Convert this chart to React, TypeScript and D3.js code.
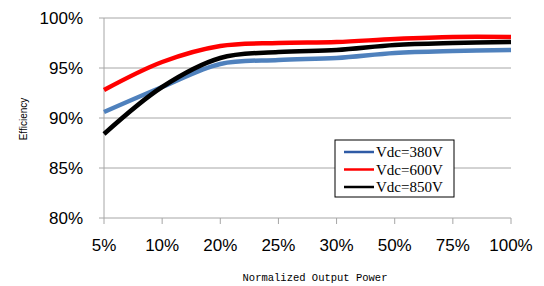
import { useEffect, useRef } from 'react';
import * as d3 from 'd3';

const categories = ['5%', '10%', '20%', '25%', '30%', '50%', '75%', '100%'];
const vdc380 = [90.6, 93.1, 95.4, 95.8, 96.0, 96.5, 96.7, 96.8];
const vdc600 = [92.8, 95.6, 97.2, 97.5, 97.6, 97.9, 98.1, 98.1];
const vdc850 = [88.4, 93.1, 96.0, 96.6, 96.8, 97.3, 97.5, 97.6];
const yTicks = [80, 85, 90, 95, 100];

const series = [
	{ name: 'Vdc=380V', values: vdc380, color: '#4f81bd', legendColor: '#2f5ba5' },
	{ name: 'Vdc=600V', values: vdc600, color: '#ff0000', legendColor: '#ff0000' },
	{ name: 'Vdc=850V', values: vdc850, color: '#000000', legendColor: '#000000' },
];

export default function App() {
	const svgRef = useRef<SVGSVGElement>(null);

	useEffect(() => {
		if (!svgRef.current) return;
		const svg = d3.select(svgRef.current);
		svg.selectAll('*').remove();

		const left = 104;
		const right = 511;
		const top = 18;
		const bottom = 218;

		const x = d3.scalePoint<string>().domain(categories).range([left, right]);
		const y = d3.scaleLinear().domain([80, 100]).range([bottom, top]);

		// grid
		svg.append('g')
			.selectAll('line')
			.data(yTicks)
			.enter()
			.append('line')
			.attr('x1', left - 5)
			.attr('x2', right)
			.attr('y1', (d) => y(d))
			.attr('y2', (d) => y(d))
			.attr('stroke', '#a6a6a6')
			.attr('stroke-width', 1);

		// left axis line
		svg.append('line')
			.attr('x1', left)
			.attr('x2', left)
			.attr('y1', top)
			.attr('y2', bottom)
			.attr('stroke', '#a6a6a6');

		// x tick marks
		svg.append('g')
			.selectAll('line')
			.data(categories)
			.enter()
			.append('line')
			.attr('x1', (d) => x(d)!)
			.attr('x2', (d) => x(d)!)
			.attr('y1', bottom)
			.attr('y2', bottom + 6)
			.attr('stroke', '#a6a6a6');

		svg.append('g')
			.selectAll('text')
			.data(yTicks)
			.enter()
			.append('text')
			.attr('x', left - 21)
			.attr('y', (d) => y(d))
			.attr('dy', '0.35em')
			.attr('text-anchor', 'end')
			.attr('font-family', '"Liberation Sans", Arial, sans-serif')
			.attr('font-size', 17)
			.attr('fill', '#000')
			.text((d) => `${d}%`);

		svg.append('g')
			.selectAll('text')
			.data(categories)
			.enter()
			.append('text')
			.attr('x', (d) => x(d)!)
			.attr('y', 245)
			.attr('dy', '0.35em')
			.attr('text-anchor', 'middle')
			.attr('font-family', '"Liberation Sans", Arial, sans-serif')
			.attr('font-size', 17)
			.attr('fill', '#000')
			.text((d) => d);

		const line = d3
			.line<number>()
			.x((_, i) => x(categories[i])!)
			.y((d) => y(d))
			.curve(d3.curveCatmullRom.alpha(0.5));

		series.forEach((s) => {
			svg.append('path')
				.datum(s.values)
				.attr('fill', 'none')
				.attr('stroke', s.color)
				.attr('stroke-width', 4.5)
				.attr('stroke-linejoin', 'round')
				.attr('d', line);
		});

		// axis titles
		svg.append('text')
			.attr('transform', 'translate(27,119) rotate(-90)')
			.attr('text-anchor', 'middle')
			.attr('font-family', '"Liberation Sans", Arial, sans-serif')
			.attr('font-size', 10)
			.text('Efficiency');

		svg.append('text')
			.attr('x', 315)
			.attr('y', 281)
			.attr('text-anchor', 'middle')
			.attr('font-family', '"Liberation Mono", monospace')
			.attr('font-size', 10.5)
			.text('Normalized Output Power');

		// legend
		const legend = svg.append('g').attr('transform', 'translate(335,140)');
		legend.append('rect')
			.attr('width', 119)
			.attr('height', 57)
			.attr('fill', '#fff')
			.attr('stroke', '#000')
			.attr('stroke-width', 1);

		series.forEach((s, i) => {
			const row = legend.append('g').attr('transform', `translate(0,${12 + i * 17.5})`);
			row.append('line')
				.attr('x1', 9)
				.attr('x2', 39)
				.attr('stroke', s.legendColor)
				.attr('stroke-width', 2.5);
			row.append('text')
				.attr('x', 41)
				.attr('dy', '0.35em')
				.attr('font-family', '"Liberation Serif", serif')
				.attr('font-size', 15)
				.text(s.name);
		});
	}, []);

	return (
		<svg
			ref={svgRef}
			width={544}
			height={286}
			style={{ position: 'absolute', left: 0, top: 0, background: '#fff' }}
		/>
	);
}
